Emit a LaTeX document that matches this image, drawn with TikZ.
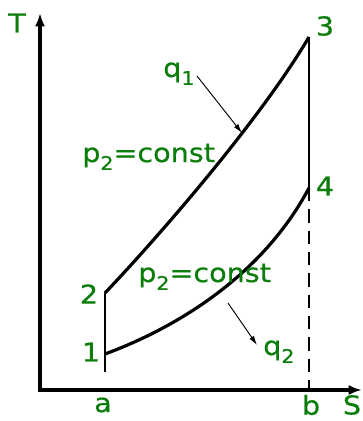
\documentclass[tikz,border=0pt]{standalone}
\usepackage{fontspec}
\newfontfamily\lblfont[FakeStretch=1.1,FakeBold=0.6]{DejaVu Sans}
\usetikzlibrary{arrows.meta}
\definecolor{lblgreen}{RGB}{10,125,10}
\newcommand{\lowsub}[1]{\raisebox{-0.3em}{\fontsize{14pt}{14pt}\selectfont #1}}

\begin{document}
\begin{tikzpicture}[
  x=0.75pt, y=-0.75pt,
  lbl/.style={text=lblgreen, font=\lblfont\fontsize{19.5pt}{21pt}\selectfont, inner sep=0pt},
  curve/.style={line width=2.4pt},
  side/.style={line width=1.9pt},
  axis/.style={line width=2.3pt, line join=miter, {Latex[length=10pt,width=7.5pt]}-{Latex[length=10pt,width=7.5pt]}},
  heat/.style={line width=0.7pt, -{Latex[length=7pt,width=4pt]}}
]
\useasboundingbox (0,0) rectangle (363,421);
% axes
\coordinate (O) at (40,390);
\coordinate (Ttip) at (40,13);
\coordinate (Stip) at (362,390);
\draw[axis] (Ttip) -- (O) -- (Stip);
\node[lbl] (T) at (17,23) {T};
\node[lbl] (S) at (352,405) {S};
\node[lbl] (a) at (103,405) {a};
\node[lbl] (b) at (311,405) {b};
% cycle points
\coordinate (p1) at (105,354);
\coordinate (p2) at (105,293);
\coordinate (p3) at (309,37);
\coordinate (p4) at (309,188);
\coordinate (pa) at (105,372);
\coordinate (pb) at (309,390);
\draw[curve] (p2) .. controls (160,235) and (260,120) .. (p3);
\draw[curve] (p1) .. controls (170,330) and (260,280) .. (p4);
\draw[side] (p2) -- (p1);
\draw[side] (p3) -- (p4);
\draw[line width=0.9pt] (p1) -- (pa);
\draw[line width=0.9pt, dash pattern=on 10pt off 6pt] (p4) -- (pb);
\node[lbl] (n1) at (91,352) {1};
\node[lbl] (n2) at (89,294) {2};
\node[lbl] (n3) at (325,26) {3};
\node[lbl] (n4) at (325,186) {4};
% heat in and out
\node[lbl, anchor=base west] (hot) at (82,162) {p\lowsub{2}=const};
\node[lbl, anchor=base west] (cold) at (138,282) {p\lowsub{2}=const};
\node[lbl, anchor=base west] (q1) at (163,77) {q\lowsub{1}};
\node[lbl, anchor=base west] (q2) at (263,355) {q\lowsub{2}};
\coordinate (q1s) at (197,76);
\coordinate (q1e) at (242,133);
\coordinate (q2s) at (228,303);
\coordinate (q2e) at (257,345);
\draw[heat] (q1s) -- (q1e);
\draw[heat] (q2s) -- (q2e);
\end{tikzpicture}
\end{document}
